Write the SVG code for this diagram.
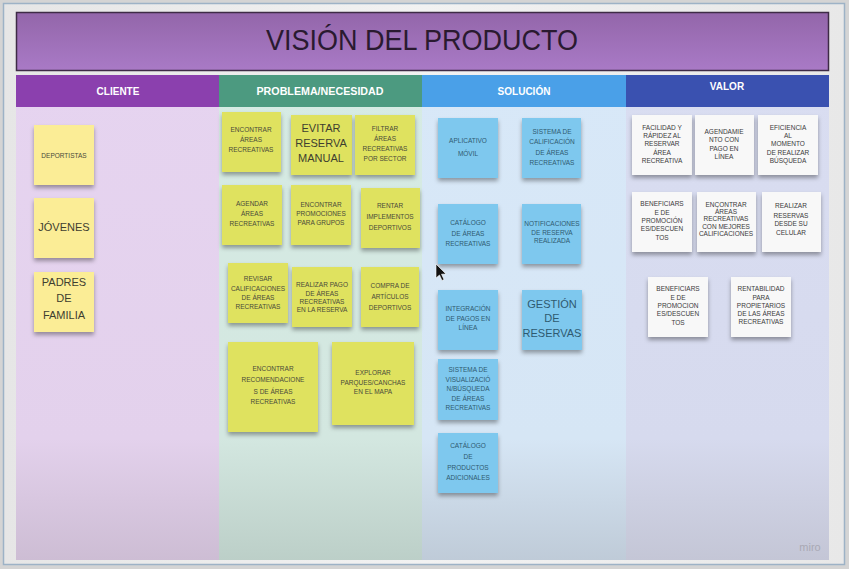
<svg xmlns="http://www.w3.org/2000/svg" width="849" height="569" viewBox="0 0 849 569">
<defs>
  <linearGradient id="gTitle" x1="0" y1="0" x2="0" y2="1"><stop offset="0" stop-color="#9366aa"/><stop offset="1" stop-color="#a97ac6"/></linearGradient>
  <linearGradient id="gFrame" x1="0" y1="0" x2="1" y2="0"><stop offset="0" stop-color="#e6e6e6"/><stop offset="0.5" stop-color="#f2f2f2"/><stop offset="1" stop-color="#e8e8e8"/></linearGradient>
  <linearGradient id="gC1" x1="0" y1="0" x2="0" y2="1"><stop offset="0" stop-color="#e6d4f0"/><stop offset="0.75" stop-color="#e3d1ec"/><stop offset="1" stop-color="#cdbdd4"/></linearGradient>
  <linearGradient id="gC2" x1="0" y1="0" x2="0" y2="1"><stop offset="0" stop-color="#d6ebe4"/><stop offset="0.75" stop-color="#d3e7e0"/><stop offset="1" stop-color="#bccfc8"/></linearGradient>
  <linearGradient id="gC3" x1="0" y1="0" x2="0" y2="1"><stop offset="0" stop-color="#d8e8f8"/><stop offset="0.75" stop-color="#d6e6f5"/><stop offset="1" stop-color="#bfcbd8"/></linearGradient>
  <linearGradient id="gC4" x1="0" y1="0" x2="0" y2="1"><stop offset="0" stop-color="#d9ddf1"/><stop offset="0.75" stop-color="#d6daee"/><stop offset="1" stop-color="#c4c6d6"/></linearGradient>
  <filter id="sh" x="-20%" y="-20%" width="140%" height="150%">
    <feDropShadow dx="0" dy="3" stdDeviation="2" flood-color="#000" flood-opacity="0.35"/>
  </filter>
  <style>
    .st{filter:url(#sh);}
    .y1{fill:#fbed96;}
    .y2{fill:#dfe25e;}
    .bl{fill:#7ec8ee;}
    .wh{fill:#f8f8f8;}
    text{font-family:"Liberation Sans","Open Sans",Arial,sans-serif;text-anchor:middle;dominant-baseline:central;}
    .t{fill:#4a4a3a;font-size:6.5px;}
    .tb{fill:#3e3e30;font-size:11px;}
    .tbl{fill:#2f5a70;}
    .twh{fill:#3a3a3a;}
    .hd{fill:#ffffff;font-size:10px;font-weight:bold;}
  </style>
</defs>

<!-- frame background -->
<rect x="0" y="0" width="849" height="569" fill="#d4d4d4"/>
<rect x="3.5" y="3.5" width="841" height="561" fill="url(#gFrame)" stroke="#9db2c6" stroke-width="1.5"/>

<!-- title -->
<g id="title">
  <rect x="16.5" y="12.5" width="812" height="58" fill="url(#gTitle)" stroke="#3e2b46" stroke-width="1.5"/>
  <text x="422" y="39.5" font-size="30" fill="#2a1a30" textLength="312" lengthAdjust="spacingAndGlyphs">VISIÓN DEL PRODUCTO</text>
</g>

<!-- columns -->
<g id="columns">
  <rect x="16" y="75" width="203" height="485" fill="url(#gC1)"/>
  <rect x="219" y="75" width="203" height="485" fill="url(#gC2)"/>
  <rect x="422" y="75" width="204" height="485" fill="url(#gC3)"/>
  <rect x="626" y="75" width="203" height="485" fill="url(#gC4)"/>
  <rect x="16" y="75" width="203" height="32" fill="#8b40ae"/>
  <rect x="219" y="75" width="203" height="32" fill="#4c9a80"/>
  <rect x="422" y="75" width="204" height="32" fill="#4aa0e8"/>
  <rect x="626" y="75" width="203" height="32" fill="#3a51b0"/>
  <text class="hd" x="118" y="91">CLIENTE</text>
  <text class="hd" x="320" y="91" textLength="127" lengthAdjust="spacingAndGlyphs">PROBLEMA/NECESIDAD</text>
  <text class="hd" x="524" y="91">SOLUCIÓN</text>
  <text class="hd" x="727" y="86" font-weight="normal">VALOR</text>
</g>

<!-- CLIENTE -->
<g id="n-deportistas"><rect class="st y1" x="34" y="125" width="60" height="60"/><text class="t" x="64" y="155" font-size="6">DEPORTISTAS</text></g>
<g id="n-jovenes"><rect class="st y1" x="34" y="198" width="60" height="60"/><text class="tb" x="64" y="227">JÓVENES</text></g>
<g id="n-padres"><rect class="st y1" x="34" y="272" width="60" height="60"/>
  <text class="tb" x="64" y="282">PADRES</text><text class="tb" x="64" y="298">DE</text><text class="tb" x="64" y="315">FAMILIA</text></g>

<!-- PROBLEMA / NECESIDAD -->
<g id="n-p1"><rect class="st y2" x="222" y="112" width="59" height="60"/>
  <text class="t" x="251" y="129">ENCONTRAR</text><text class="t" x="251" y="139">ÁREAS</text><text class="t" x="251" y="149">RECREATIVAS</text></g>
<g id="n-p2"><rect class="st y2" x="291" y="115" width="61" height="60"/>
  <text class="tb" x="321" y="128" font-size="11.5">EVITAR</text><text class="tb" x="321" y="143" font-size="11.5">RESERVA</text><text class="tb" x="321" y="158" font-size="11.5">MANUAL</text></g>
<g id="n-p3"><rect class="st y2" x="355" y="115" width="60" height="60"/>
  <text class="t" x="385" y="128" font-size="6">FILTRAR</text><text class="t" x="385" y="138" font-size="6">ÁREAS</text><text class="t" x="385" y="148" font-size="6">RECREATIVAS</text><text class="t" x="385" y="158" font-size="6">POR SECTOR</text></g>
<g id="n-p4"><rect class="st y2" x="222" y="185" width="60" height="60"/>
  <text class="t" x="252" y="203">AGENDAR</text><text class="t" x="252" y="213">ÁREAS</text><text class="t" x="252" y="223">RECREATIVAS</text></g>
<g id="n-p5"><rect class="st y2" x="291" y="185" width="60" height="60"/>
  <text class="t" x="321" y="204" font-size="5.5">ENCONTRAR</text><text class="t" x="321" y="213" font-size="5.5">PROMOCIONES</text><text class="t" x="321" y="222" font-size="5.5">PARA GRUPOS</text></g>
<g id="n-p6"><rect class="st y2" x="361" y="188" width="59" height="60"/>
  <text class="t" x="390" y="205" font-size="6">RENTAR</text><text class="t" x="390" y="216" font-size="6">IMPLEMENTOS</text><text class="t" x="390" y="227" font-size="6">DEPORTIVOS</text></g>
<g id="n-p7"><rect class="st y2" x="228" y="263" width="60" height="60"/>
  <text class="t" x="258" y="278" font-size="5.5">REVISAR</text><text class="t" x="258" y="288" font-size="5.5">CALIFICACIONES</text><text class="t" x="258" y="297" font-size="5.5">DE ÁREAS</text><text class="t" x="258" y="306" font-size="5.5">RECREATIVAS</text></g>
<g id="n-p8"><rect class="st y2" x="292" y="267" width="60" height="60"/>
  <text class="t" x="322" y="284" font-size="5.2">REALIZAR PAGO</text><text class="t" x="322" y="293" font-size="5.2">DE ÁREAS</text><text class="t" x="322" y="301" font-size="5.2">RECREATIVAS</text><text class="t" x="322" y="309" font-size="5.2">EN LA RESERVA</text></g>
<g id="n-p9"><rect class="st y2" x="361" y="267" width="58" height="60"/>
  <text class="t" x="390" y="285">COMPRA DE</text><text class="t" x="390" y="296">ARTÍCULOS</text><text class="t" x="390" y="307">DEPORTIVOS</text></g>
<g id="n-p10"><rect class="st y2" x="228" y="342" width="90" height="90"/>
  <text class="t" x="273" y="368">ENCONTRAR</text><text class="t" x="273" y="379">RECOMENDACIONE</text><text class="t" x="273" y="391">S DE ÁREAS</text><text class="t" x="273" y="401">RECREATIVAS</text></g>
<g id="n-p11"><rect class="st y2" x="332" y="342" width="82" height="83"/>
  <text class="t" x="373" y="372" font-size="6">EXPLORAR</text><text class="t" x="373" y="382" font-size="6">PARQUES/CANCHAS</text><text class="t" x="373" y="391" font-size="6">EN EL MAPA</text></g>

<!-- SOLUCIÓN -->
<g id="n-s1"><rect class="st bl" x="438" y="118" width="60" height="60"/>
  <text class="t tbl" x="468" y="140" font-size="7.5">APLICATIVO</text><text class="t tbl" x="468" y="153" font-size="7.5">MÓVIL</text></g>
<g id="n-s2"><rect class="st bl" x="522" y="118" width="59" height="60"/>
  <text class="t tbl" x="552" y="131" font-size="5.8">SISTEMA DE</text><text class="t tbl" x="552" y="141" font-size="5.8">CALIFICACIÓN</text><text class="t tbl" x="552" y="152" font-size="5.8">DE ÁREAS</text><text class="t tbl" x="552" y="162" font-size="5.8">RECREATIVAS</text></g>
<g id="n-s3"><rect class="st bl" x="438" y="204" width="60" height="60"/>
  <text class="t tbl" x="468" y="222" font-size="7.5">CATÁLOGO</text><text class="t tbl" x="468" y="233" font-size="7.5">DE ÁREAS</text><text class="t tbl" x="468" y="243" font-size="7.5">RECREATIVAS</text></g>
<g id="n-s4"><rect class="st bl" x="522" y="204" width="59" height="60"/>
  <text class="t tbl" x="552" y="223" font-size="4.4">NOTIFICACIONES</text><text class="t tbl" x="552" y="232" font-size="4.4">DE RESERVA</text><text class="t tbl" x="552" y="240" font-size="4.4">REALIZADA</text></g>
<g id="n-s5"><rect class="st bl" x="438" y="290" width="60" height="60"/>
  <text class="t tbl" x="468" y="308" font-size="5.8">INTEGRACIÓN</text><text class="t tbl" x="468" y="318" font-size="5.8">DE PAGOS EN</text><text class="t tbl" x="468" y="327" font-size="5.8">LÍNEA</text></g>
<g id="n-s6"><rect class="st bl" x="522" y="290" width="60" height="60"/>
  <text class="tb tbl" x="552" y="304">GESTIÓN</text><text class="tb tbl" x="552" y="318">DE</text><text class="tb tbl" x="552" y="333">RESERVAS</text></g>
<g id="n-s7"><rect class="st bl" x="438" y="359" width="60" height="61"/>
  <text class="t tbl" x="468" y="369" font-size="5.6">SISTEMA DE</text><text class="t tbl" x="468" y="379" font-size="5.6">VISUALIZACIÓ</text><text class="t tbl" x="468" y="388" font-size="5.6">N/BÚSQUEDA</text><text class="t tbl" x="468" y="398" font-size="5.6">DE ÁREAS</text><text class="t tbl" x="468" y="407" font-size="5.6">RECREATIVAS</text></g>
<g id="n-s8"><rect class="st bl" x="438" y="433" width="60" height="60"/>
  <text class="t tbl" x="468" y="445" font-size="6.3">CATÁLOGO</text><text class="t tbl" x="468" y="456" font-size="6.3">DE</text><text class="t tbl" x="468" y="467" font-size="6.3">PRODUCTOS</text><text class="t tbl" x="468" y="477" font-size="6.3">ADICIONALES</text></g>

<!-- VALOR -->
<g id="n-v1"><rect class="st wh" x="632" y="115" width="60" height="60"/>
  <text class="t twh" x="662" y="127" font-size="6.2">FACILIDAD Y</text><text class="t twh" x="662" y="135" font-size="6.2">RÁPIDEZ AL</text><text class="t twh" x="662" y="143" font-size="6.2">RESERVAR</text><text class="t twh" x="662" y="152" font-size="6.2">ÁREA</text><text class="t twh" x="662" y="160" font-size="6.2">RECREATIVA</text></g>
<g id="n-v2"><rect class="st wh" x="695" y="115" width="59" height="60"/>
  <text class="t twh" x="724" y="131" font-size="6.4">AGENDAMIE</text><text class="t twh" x="724" y="139" font-size="6.4">NTO CON</text><text class="t twh" x="724" y="148" font-size="6.4">PAGO EN</text><text class="t twh" x="724" y="156" font-size="6.4">LÍNEA</text></g>
<g id="n-v3"><rect class="st wh" x="758" y="115" width="60" height="60"/>
  <text class="t twh" x="788" y="127" font-size="6.2">EFICIENCIA</text><text class="t twh" x="788" y="135" font-size="6.2">AL</text><text class="t twh" x="788" y="143" font-size="6.2">MOMENTO</text><text class="t twh" x="788" y="152" font-size="6.2">DE REALIZAR</text><text class="t twh" x="788" y="160" font-size="6.2">BÚSQUEDA</text></g>
<g id="n-v4"><rect class="st wh" x="632" y="192" width="60" height="60"/>
  <text class="t twh" x="662" y="203" font-size="6.2">BENEFICIARS</text><text class="t twh" x="662" y="212" font-size="6.2">E DE</text><text class="t twh" x="662" y="220" font-size="6.2">PROMOCIÓN</text><text class="t twh" x="662" y="228" font-size="6.2">ES/DESCUEN</text><text class="t twh" x="662" y="237" font-size="6.2">TOS</text></g>
<g id="n-v5"><rect class="st wh" x="697" y="192" width="59" height="60"/>
  <text class="t twh" x="726" y="204" font-size="4.8">ENCONTRAR</text><text class="t twh" x="726" y="211" font-size="4.8">ÁREAS</text><text class="t twh" x="726" y="218" font-size="4.8">RECREATIVAS</text><text class="t twh" x="726" y="226" font-size="4.8">CON MEJORES</text><text class="t twh" x="726" y="233" font-size="4.8">CALIFICACIONES</text></g>
<g id="n-v6"><rect class="st wh" x="762" y="192" width="59" height="60"/>
  <text class="t twh" x="791" y="205" font-size="6.2">REALIZAR</text><text class="t twh" x="791" y="215" font-size="6.2">RESERVAS</text><text class="t twh" x="791" y="223" font-size="6.2">DESDE SU</text><text class="t twh" x="791" y="232" font-size="6.2">CELULAR</text></g>
<g id="n-v7"><rect class="st wh" x="648" y="277" width="60" height="60"/>
  <text class="t twh" x="678" y="288" font-size="5.8">BENEFICIARS</text><text class="t twh" x="678" y="297" font-size="5.8">E DE</text><text class="t twh" x="678" y="305" font-size="5.8">PROMOCION</text><text class="t twh" x="678" y="313" font-size="5.8">ES/DESCUEN</text><text class="t twh" x="678" y="322" font-size="5.8">TOS</text></g>
<g id="n-v8"><rect class="st wh" x="731" y="277" width="60" height="60"/>
  <text class="t twh" x="761" y="288" font-size="5.5">RENTABILIDAD</text><text class="t twh" x="761" y="297" font-size="5.5">PARA</text><text class="t twh" x="761" y="305" font-size="5.5">PROPIETARIOS</text><text class="t twh" x="761" y="313" font-size="5.5">DE LAS ÁREAS</text><text class="t twh" x="761" y="321" font-size="5.5">RECREATIVAS</text></g>

<!-- connectors: none in the picture -->
<g id="connectors"></g>

<!-- mouse cursor and watermark -->
<path d="M436 264 L436 278 L439.5 275 L442 280.5 L444 279.5 L441.5 274.2 L446 274 Z" fill="#111" stroke="#fff" stroke-width="0.6"/>
<text x="810" y="547" font-size="11" fill="#a9a9b4">miro</text>
</svg>
